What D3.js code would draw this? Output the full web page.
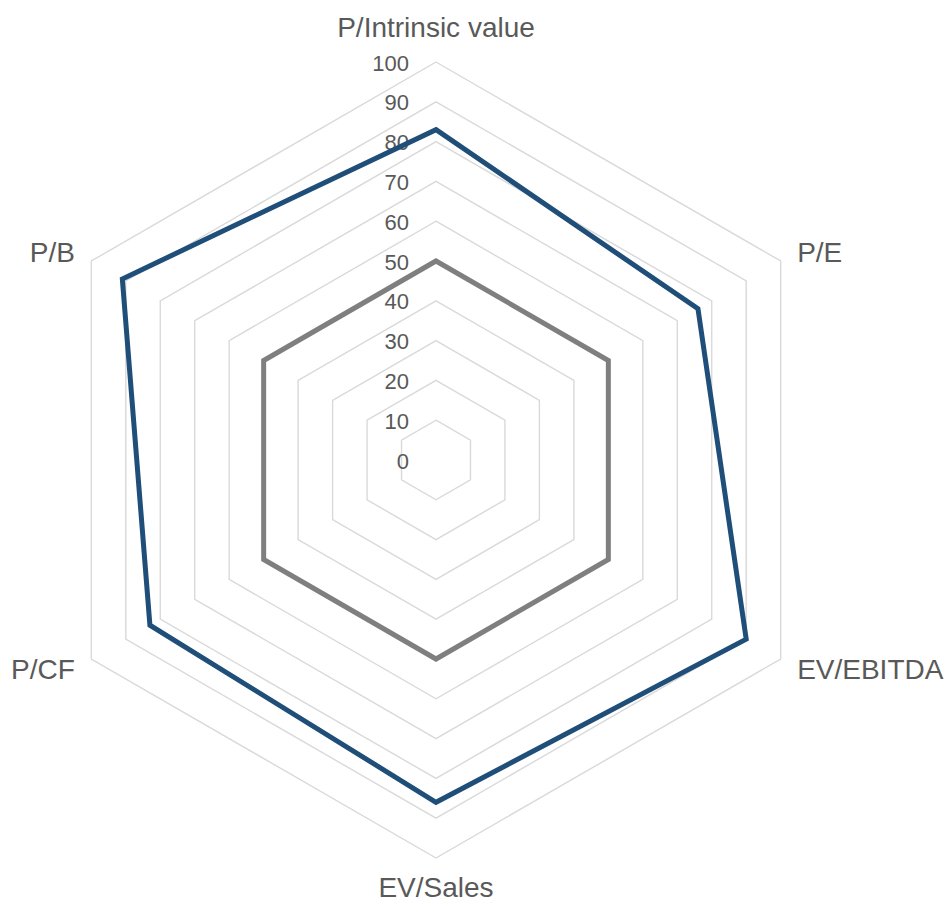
<!DOCTYPE html>
<html>
<head>
<meta charset="utf-8">
<script src="https://cdn.jsdelivr.net/npm/d3@7"></script>
<style>
  html, body { margin: 0; padding: 0; background: #fff; }
  svg { display: block; font-family: "Liberation Sans", Arial, sans-serif; }
</style>
</head>
<body>
<div id="chart"></div>
<script>
// Chart data
const categories = ["P/Intrinsic value", "P/E", "EV/EBITDA", "EV/Sales", "P/CF", "P/B"];
const companyValues = [83, 76, 90, 86, 83, 91];
const benchmarkValues = [50, 50, 50, 50, 50, 50];
const tickValues = [0, 10, 20, 30, 40, 50, 60, 70, 80, 90, 100];

const width = 952;
const height = 904;
const cx = 436;
const cy = 460;

const svg = d3.select("#chart")
    .append("svg")
    .attr("width", width)
    .attr("height", height);

const g = svg.append("g")
    .attr("transform", `translate(${cx},${cy})`);

// radius and angle scales
const rScale = d3.scaleLinear()
    .domain([0, 100])
    .range([0, 398]);

const angle = d3.scaleLinear()
    .domain([0, categories.length])
    .range([0, 2 * Math.PI]);

const radialLine = d3.lineRadial()
    .angle((d, i) => angle(i))
    .radius(d => rScale(d))
    .curve(d3.curveLinearClosed);

// grid hexagons
g.selectAll(".grid")
    .data(tickValues.filter(t => t > 0))
    .enter()
    .append("path")
    .attr("class", "grid")
    .attr("d", t => radialLine(categories.map(() => t)))
    .attr("fill", "none")
    .attr("stroke", "#d9d9d9")
    .attr("stroke-width", 1.4);

// tick labels
g.selectAll(".tick-label")
    .data(tickValues)
    .enter()
    .append("text")
    .attr("class", "tick-label")
    .attr("x", -27)
    .attr("y", t => -rScale(t) + 8.5)
    .attr("text-anchor", "end")
    .attr("font-size", 22)
    .attr("fill", "#595959")
    .text(t => t);

// series
const series = [
    { values: benchmarkValues, color: "#7f7f7f" },
    { values: companyValues, color: "#1f4e79" }
];

g.selectAll(".series")
    .data(series)
    .enter()
    .append("path")
    .attr("class", "series")
    .attr("d", s => radialLine(s.values))
    .attr("fill", "none")
    .attr("stroke", s => s.color)
    .attr("stroke-width", 5)
    .attr("stroke-linejoin", "miter");

// category labels
const labelR = rScale(100) + 19;
g.selectAll(".cat-label")
    .data(categories)
    .enter()
    .append("text")
    .attr("class", "cat-label")
    .attr("x", (d, i) => Math.sin(angle(i)) * labelR)
    .attr("y", (d, i) => {
        const c = -Math.cos(angle(i));
        const extra = Math.abs(Math.sin(angle(i))) < 0.1 ? (c < 0 ? -16 : 10) : 0;
        return c * labelR + extra + 10;
    })
    .attr("text-anchor", (d, i) => {
        const s = Math.sin(angle(i));
        return Math.abs(s) < 0.1 ? "middle" : (s > 0 ? "start" : "end");
    })
    .attr("font-size", 28)
    .attr("fill", "#595959")
    .text(d => d);
</script>
</body>
</html>
